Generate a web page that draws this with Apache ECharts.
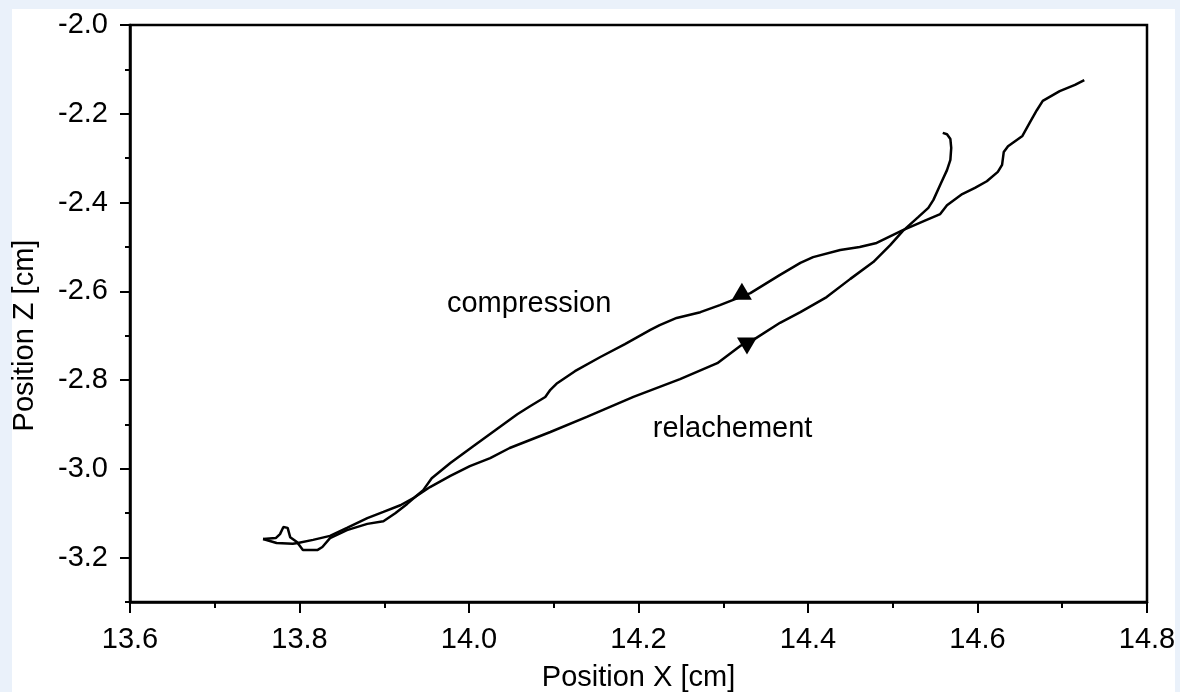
<!DOCTYPE html>
<html>
<head>
<meta charset="utf-8">
<title>Position Z vs Position X</title>
<script src="https://cdn.jsdelivr.net/npm/echarts@6/dist/echarts.min.js"></script>
<style>
  html, body { margin: 0; padding: 0; background: #eaf1fa; }
  #paper { position: absolute; left: 12px; top: 9px; right: 5px; bottom: 0; background: #fff; }
  #main { position: absolute; left: 0; top: 0; width: 1180px; height: 692px; }
</style>
</head>
<body>
<div id="paper"></div>
<div id="main"></div>
<script>
// compression branch (top right -> bottom left)
const compX = [14.726, 14.715, 14.697, 14.677, 14.670, 14.662, 14.653, 14.636, 14.631, 14.629,
    14.624, 14.611, 14.597, 14.582, 14.564, 14.556, 14.540, 14.512, 14.481, 14.461,
    14.438, 14.406, 14.391, 14.367, 14.332, 14.296, 14.273, 14.245, 14.225, 14.214,
    14.184, 14.155, 14.125, 14.104, 14.096, 14.090, 14.072, 14.057, 14.031, 14.005,
    13.978, 13.956, 13.946, 13.936, 13.919, 13.899, 13.880, 13.856, 13.836, 13.816,
    13.798, 13.792, 13.773, 13.757];
const compZ = [-2.124, -2.135, -2.149, -2.171, -2.192, -2.219, -2.250, -2.273, -2.286, -2.315,
    -2.331, -2.352, -2.367, -2.381, -2.406, -2.426, -2.439, -2.462, -2.491, -2.500,
    -2.507, -2.523, -2.536, -2.563, -2.604, -2.631, -2.647, -2.660, -2.676, -2.687,
    -2.719, -2.748, -2.780, -2.807, -2.822, -2.838, -2.859, -2.877, -2.913, -2.949,
    -2.987, -3.021, -3.048, -3.064, -3.082, -3.097, -3.111, -3.133, -3.151, -3.160,
    -3.167, -3.169, -3.167, -3.158];

// relachement branch (bottom left -> hook at the top)
const relX = [13.757, 13.772, 13.777, 13.781, 13.786, 13.789, 13.797, 13.804, 13.821, 13.827,
    13.836, 13.856, 13.880, 13.899, 13.913, 13.927, 13.936, 13.954, 13.978, 14.001,
    14.025, 14.048, 14.096, 14.139, 14.194, 14.249, 14.293, 14.320, 14.335, 14.367,
    14.391, 14.422, 14.450, 14.477, 14.497, 14.512, 14.530, 14.542, 14.548, 14.557,
    14.564, 14.568, 14.569, 14.568, 14.564, 14.559];
const relZ = [-3.158, -3.156, -3.147, -3.131, -3.133, -3.154, -3.165, -3.183, -3.183, -3.176,
    -3.156, -3.138, -3.124, -3.118, -3.100, -3.079, -3.064, -3.041, -3.016, -2.994,
    -2.976, -2.953, -2.917, -2.883, -2.838, -2.798, -2.762, -2.723, -2.710, -2.671,
    -2.647, -2.613, -2.572, -2.534, -2.496, -2.464, -2.433, -2.412, -2.394, -2.356,
    -2.327, -2.304, -2.277, -2.257, -2.246, -2.243];

// direction arrows
const arrowUp = [14.322, -2.600];
const arrowDown = [14.328, -2.723];

// text labels
const noteText = ['compression', 'relachement'];
const noteX = [14.071, 14.311];
const noteZ = [-2.629, -2.910];

// ticks
const xMajor = [13.6, 13.8, 14.0, 14.2, 14.4, 14.6, 14.8];
const xMinor = [13.7, 13.9, 14.1, 14.3, 14.5, 14.7];
const zMajor = [-3.2, -3.0, -2.8, -2.6, -2.4, -2.2, -2.0];
const zMinor = [-3.3, -3.1, -2.9, -2.7, -2.5, -2.3, -2.1];

const FONT = 'Liberation Sans, Arial, Helvetica, sans-serif';
const BLACK = '#000';
const FS = 29;

const zip = (xs, ys) => xs.map((x, i) => [x, ys[i]]);

const chart = echarts.init(document.getElementById('main'), null, { renderer: 'canvas' });

const xBase = {
    type: 'value', min: 13.6, max: 14.8, position: 'bottom',
    splitLine: { show: false }
};
const yBase = {
    type: 'value', min: -3.3, max: -2.0, position: 'left',
    splitLine: { show: false }
};

const option = {
    animation: false,
    backgroundColor: 'transparent',
    grid: {
        left: 130, right: 33, top: 25, bottom: 90,
        outerBoundsMode: 'none',
        containLabel: false,
        show: true, borderColor: BLACK, borderWidth: 2.5, backgroundColor: 'transparent'
    },
    xAxis: [
        Object.assign({}, xBase, {
            name: 'Position X [cm]',
            nameLocation: 'middle',
            nameGap: 61,
            nameTextStyle: { color: BLACK, fontSize: FS, fontFamily: FONT },
            axisLine: { lineStyle: { color: BLACK, width: 2.5 } },
            axisTick: { customValues: xMajor, length: 11, lineStyle: { color: BLACK, width: 2 } },
            axisLabel: {
                customValues: xMajor, margin: 23, color: BLACK, fontSize: FS, fontFamily: FONT,
                formatter: v => v.toFixed(1)
            }
        }),
        Object.assign({}, xBase, {
            axisLine: { show: false },
            axisTick: { customValues: xMinor, length: 6, lineStyle: { color: BLACK, width: 2 } },
            axisLabel: { show: false }
        })
    ],
    yAxis: [
        Object.assign({}, yBase, {
            name: 'Position Z [cm]',
            nameLocation: 'middle',
            nameGap: 91,
            nameTextStyle: { color: BLACK, fontSize: FS, fontFamily: FONT, padding: [0, 44, 0, 0] },
            axisLine: { lineStyle: { color: BLACK, width: 2.5 } },
            axisTick: { customValues: zMajor, length: 10, lineStyle: { color: BLACK, width: 2 } },
            axisLabel: {
                customValues: zMajor, margin: 22, color: BLACK, fontSize: FS, fontFamily: FONT,
                formatter: v => v.toFixed(1)
            }
        }),
        Object.assign({}, yBase, {
            axisLine: { show: false },
            axisTick: { customValues: zMinor, length: 5, lineStyle: { color: BLACK, width: 2 } },
            axisLabel: { show: false }
        })
    ],
    series: [
        {
            name: 'compression',
            type: 'line',
            data: zip(compX, compZ),
            showSymbol: false,
            lineStyle: { color: BLACK, width: 2.5 },
            z: 3
        },
        {
            name: 'relachement',
            type: 'line',
            data: zip(relX, relZ),
            showSymbol: false,
            lineStyle: { color: BLACK, width: 2.5 },
            z: 3
        },
        {
            name: 'arrows',
            type: 'scatter',
            data: [
                { value: arrowUp, symbolRotate: 0 },
                { value: arrowDown, symbolRotate: 180 }
            ],
            symbol: 'triangle',
            symbolSize: [20, 17],
            itemStyle: { color: BLACK, opacity: 1 },
            z: 4
        },
        {
            name: 'notes',
            type: 'scatter',
            data: noteText.map((t, i) => [noteX[i], noteZ[i], t]),
            symbolSize: 0,
            itemStyle: { opacity: 1 },
            label: {
                show: true,
                position: 'inside',
                formatter: p => p.data[2],
                color: BLACK,
                fontSize: FS,
                fontFamily: FONT
            },
            z: 5
        }
    ]
};

chart.setOption(option);
</script>
</body>
</html>
